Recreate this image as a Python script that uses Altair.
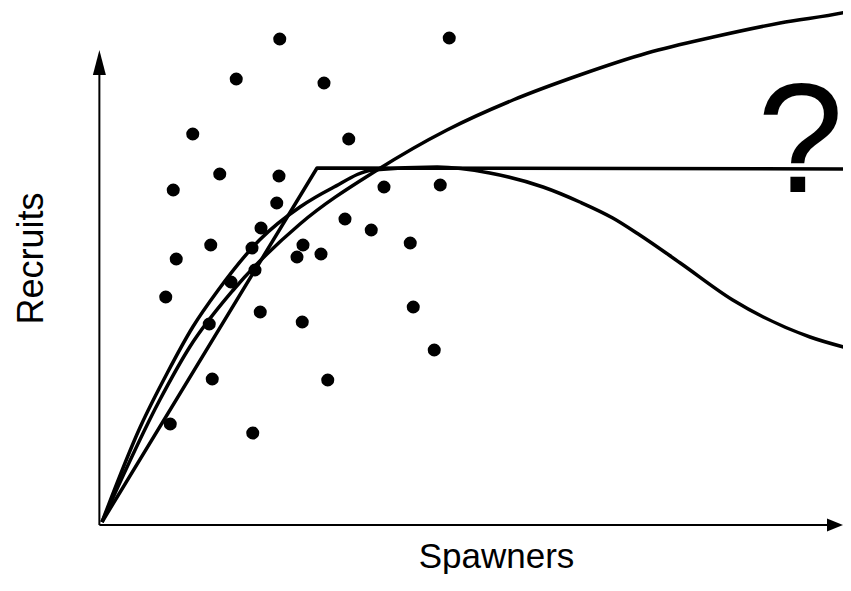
import altair as alt
import pandas as pd

# ---- data (arbitrary units) ----
dot_x = [23.7, 46.3, 17.9, 29.6, 12.1, 32.9, 9.5, 15.7, 23.6, 23.3,
         37.6, 45.1, 21.2, 14.5, 20.0, 26.8, 32.4, 35.9, 41.1, 9.9,
         26.0, 29.2, 20.4, 17.2, 8.5, 21.1, 14.3, 26.7, 41.5, 44.3,
         14.7, 30.1, 9.1, 20.1]
dot_y = [96.6, 96.8, 88.6, 87.8, 77.6, 76.6, 66.4, 69.6, 69.2, 63.8,
         67.0, 67.4, 58.8, 55.4, 54.8, 55.4, 60.6, 58.4, 55.8, 52.6,
         53.0, 53.6, 50.4, 48.0, 45.0, 42.0, 39.6, 40.0, 43.0, 34.4,
         28.6, 28.4, 19.6, 17.8]

hockey_x = [0, 28.67, 99.9]
hockey_y = [0, 70.8, 70.6]

bh_x = [0, 7.7, 11.7, 17.5, 26.4, 36.7, 46.0, 54.8, 63.7, 72.7, 81.5, 90.4, 99.3, 99.9]
bh_y = [0, 24.4, 35.0, 46.4, 59.6, 70.4, 78.4, 84.4, 89.4, 93.8, 97.0, 99.8, 102.0, 102.2]

ricker_x = [0, 5.1, 8.7, 12.1, 15.5, 21.0, 26.4, 30.7, 36.1, 44.7, 51.7,
            58.8, 63.7, 68.1, 71.7, 77.1, 84.1, 94.4, 99.9]
ricker_y = [0, 19.0, 29.8, 39.0, 46.4, 56.4, 63.0, 66.8, 70.4, 71.0, 69.8,
            67.0, 64.0, 60.8, 57.4, 51.8, 44.4, 37.0, 34.6]

note_x = [93.1]
note_y = [66.0]
note_text = ["?"]

x_title = "Spawners"
y_title = "Recruits"

FONT = "Liberation Sans"

dots = pd.DataFrame({"x": dot_x, "y": dot_y})
hockey = pd.DataFrame({"x": hockey_x, "y": hockey_y})
bh = pd.DataFrame({"x": bh_x, "y": bh_y})
ricker = pd.DataFrame({"x": ricker_x, "y": ricker_y})
note = pd.DataFrame({"x": note_x, "y": note_y, "t": note_text})

xscale = alt.Scale(domain=[0, 98.8], nice=False, zero=False)
yscale = alt.Scale(domain=[0, 100], nice=False, zero=False)

xaxis = alt.Axis(title=x_title, domain=False, ticks=False, labels=False, grid=False,
                 titleFont=FONT, titleFontSize=35, titleFontWeight="normal",
                 titleColor="black", titleX=394, titleY=45, titleAlign="center",
                 titleBaseline="alphabetic")
yaxis = alt.Axis(title=y_title, domain=False, ticks=False, labels=False, grid=False,
                 titleFont=FONT, titleFontSize=36, titleFontWeight="normal",
                 titleColor="black", titleX=-60, titleY=236, titleAlign="center",
                 titleBaseline="alphabetic", titleAngle=270)

X = alt.X("x:Q", scale=xscale, axis=xaxis)
Y = alt.Y("y:Q", scale=yscale, axis=yaxis)

# axes drawn as rules with arrowheads
yaxis_line = pd.DataFrame({"x": [-0.35], "y": [-0.6], "y2": [91.0]})
xaxis_line = pd.DataFrame({"x": [-0.35], "x2": [97.0], "y": [-0.6]})
yarrow = pd.DataFrame({"x": [-0.35], "y": [92.0]})
xarrow = pd.DataFrame({"x": [97.73], "y": [-0.6]})

l_yaxis = alt.Chart(yaxis_line).mark_rule(color="black", strokeWidth=2).encode(
    x=X, y=Y, y2="y2:Q")
l_xaxis = alt.Chart(xaxis_line).mark_rule(color="black", strokeWidth=2).encode(
    x=X, x2="x2:Q", y=Y)
l_yarrow = alt.Chart(yarrow).mark_point(
    shape="M-0.5,1L0,-0.92L0.5,1Z", size=676, filled=True, color="black",
    opacity=1, strokeWidth=0).encode(x=X, y=Y)
l_xarrow = alt.Chart(xarrow).mark_point(
    shape="M-1,-0.8L1,0L-1,0.8Z", size=256, filled=True, color="black",
    opacity=1, strokeWidth=0).encode(x=X, y=Y)

line_kw = dict(color="black", strokeWidth=3.5, strokeJoin="round")
l_hockey = alt.Chart(hockey).mark_line(**line_kw).encode(x=X, y=Y)
l_bh = alt.Chart(bh).mark_line(interpolate="monotone", **line_kw).encode(x=X, y=Y)
l_ricker = alt.Chart(ricker).mark_line(interpolate="monotone", **line_kw).encode(x=X, y=Y)

l_dots = alt.Chart(dots).mark_circle(size=170, color="black", opacity=1).encode(x=X, y=Y)

l_note = alt.Chart(note).mark_text(font=FONT, fontSize=155, align="center",
                                   baseline="alphabetic", color="black").encode(
    x=X, y=Y, text="t:N")

chart = alt.layer(
    l_yaxis, l_xaxis, l_yarrow, l_xarrow, l_hockey, l_bh, l_ricker, l_dots, l_note
).properties(
    width=741, height=500,
    padding={"left": 94, "top": 14, "right": 0, "bottom": 52},
    autosize=alt.AutoSizeParams(type="none"),
    background="white",
).configure_view(stroke=None)

chart.save("out.html", embed_options={"renderer": "svg", "actions": False})
